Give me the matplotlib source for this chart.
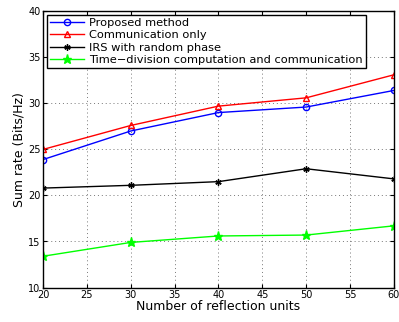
import matplotlib
matplotlib.use('Agg')
import matplotlib.pyplot as plt

units = [20, 30, 40, 50, 60]
proposed = [23.9, 27.0, 29.0, 29.6, 31.4]
comm_only = [25.0, 27.6, 29.7, 30.6, 33.1]
irs_random = [20.8, 21.1, 21.5, 22.9, 21.8]
time_div = [13.4, 14.9, 15.6, 15.7, 16.7]

labels = ['Proposed method', 'Communication only', 'IRS with random phase',
          'Time\u2212division computation and communication']

fig = plt.figure(figsize=(3.99, 3.22), dpi=100)
ax = fig.add_axes([0.108, 0.107, 0.879, 0.858])

ax.plot(units, proposed, '-', color='#0000ff', marker='o', mfc='none', ms=4.5, lw=1, label=labels[0])
ax.plot(units, comm_only, '-', color='#ff0000', marker='^', mfc='none', ms=5, lw=1, label=labels[1])
ax.plot(units, irs_random, '-', color='black', marker=(6, 2, 0), ms=4.5, mew=1, lw=1, label=labels[2])
ax.plot(units, time_div, '-', color='#00ff00', marker='*', ms=6.5, lw=1, label=labels[3])

ax.set_xlim(20, 60)
ax.set_ylim(10, 40)
ax.set_xticks(range(20, 61, 5))
ax.set_yticks(range(10, 41, 5))
ax.tick_params(direction='in', top=True, right=True, labelsize=7, length=3, pad=2)
ax.grid(True, linestyle=(0, (1, 3)), color='#777777', lw=0.7)
for s in ax.spines.values():
    s.set_linewidth(1)

ax.set_xlabel('Number of reflection units', fontsize=9, labelpad=0)
ax.set_ylabel('Sum rate (Bits/Hz)', fontsize=9, labelpad=2)

leg = ax.legend(loc='upper left', fontsize=8.2, fancybox=False, framealpha=1,
                edgecolor='black', borderaxespad=0.3, handlelength=3,
                labelspacing=0.2, borderpad=0.3, handletextpad=0.4)
leg.get_frame().set_linewidth(1)

plt.savefig('out.png', dpi=100)
